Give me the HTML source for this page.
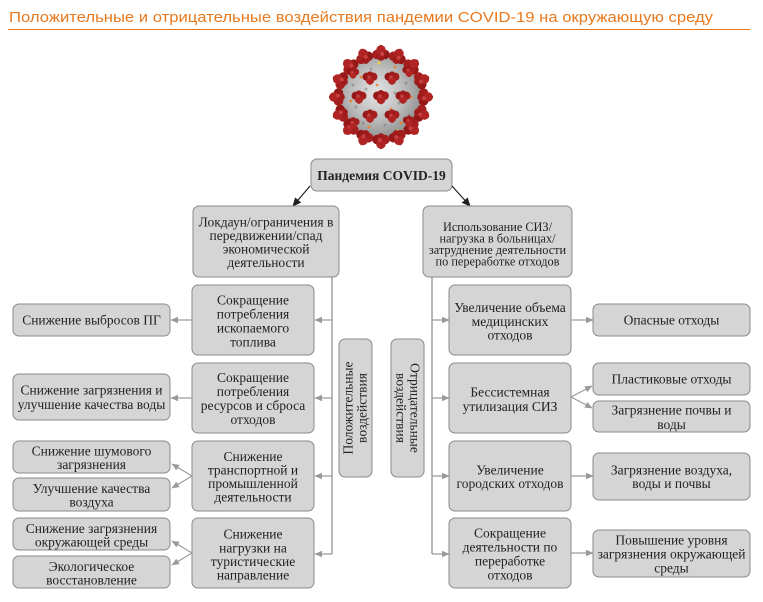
<!DOCTYPE html>
<html><head><meta charset="utf-8">
<style>
html,body{margin:0;padding:0;background:#fff;}
svg{display:block;}
.b{fill:#d5d5d5;stroke:#8a8a8a;stroke-width:1;}
.t{font-family:"Liberation Serif","DejaVu Serif",serif;font-size:13.5px;fill:#222;text-anchor:middle;}
.s{font-size:12.3px;}
.c{stroke:#9a9a9a;stroke-width:1.2;fill:none;}
.v{stroke:#888;stroke-width:1.2;fill:none;}
</style></head>
<body>
<svg width="763" height="602" viewBox="0 0 763 602" xmlns="http://www.w3.org/2000/svg">
<defs>
<marker id="ag" markerWidth="8" markerHeight="8" refX="7" refY="4" orient="auto" markerUnits="userSpaceOnUse">
<path d="M0,0.8 L7.5,4 L0,7.2 Z" fill="#999"/>
</marker>
<marker id="ad" markerWidth="10" markerHeight="10" refX="8" refY="4.5" orient="auto" markerUnits="userSpaceOnUse">
<path d="M0,0.5 L9,4.5 L0,8.5 Z" fill="#222"/>
</marker>
<radialGradient id="sph" cx="45%" cy="45%" r="55%">
<stop offset="0" stop-color="#e6e6e6"/>
<stop offset="0.6" stop-color="#bcbcbc"/>
<stop offset="1" stop-color="#959595"/>
</radialGradient>
<g id="sp">
<rect x="-1.2" y="0" width="2.4" height="8" fill="#8a2020"/>
<circle cx="-4" cy="-1.5" r="4.8" fill="#951818"/>
<circle cx="4" cy="-1.5" r="4.8" fill="#a41e1e"/>
<circle cx="0" cy="3" r="4.8" fill="#b02424"/>
<circle cx="0" cy="-4" r="3.8" fill="#a01c1c"/>
<circle cx="-1.2" cy="-1" r="2" fill="#c84040"/>
</g>
</defs>

<!-- Title -->
<text x="9" y="22" font-family="Liberation Sans, DejaVu Sans, sans-serif" font-size="15" fill="#E8791E" textLength="704" lengthAdjust="spacingAndGlyphs">Положительные и отрицательные воздействия пандемии COVID-19 на окружающую среду</text>
<line x1="8" y1="29.5" x2="750" y2="29.5" stroke="#E8791E" stroke-width="1"/>

<!-- Virus -->
<g transform="translate(381,97)">
<circle r="40" fill="url(#sph)"/>
<g fill="#6f6f6f" opacity="0.45">
<circle cx="-15" cy="-8" r="1.5"/><circle cx="8" cy="-18" r="1.5"/><circle cx="18" cy="6" r="1.5"/><circle cx="-6" cy="16" r="1.5"/><circle cx="-25" cy="10" r="1.5"/><circle cx="25" cy="-14" r="1.5"/><circle cx="4" cy="28" r="1.5"/><circle cx="-10" cy="-28" r="1.5"/><circle cx="-28" cy="-12" r="1.5"/><circle cx="28" cy="18" r="1.5"/><circle cx="-18" cy="26" r="1.5"/><circle cx="14" cy="-4" r="1.5"/>
</g>
<g fill="#e8833a">
<circle cx="-20" cy="-20" r="1.4"/><circle cx="14" cy="-30" r="1.4"/><circle cx="30" cy="0" r="1.4"/><circle cx="-30" cy="4" r="1.4"/><circle cx="-12" cy="30" r="1.4"/><circle cx="20" cy="26" r="1.4"/><circle cx="-4" cy="-12" r="1.3"/><circle cx="10" cy="12" r="1.3"/><circle cx="-26" cy="-28" r="1.3"/><circle cx="30" cy="-22" r="1.3"/>
</g>
<circle cx="-2" cy="-34" r="1.5" fill="#f0d040"/>
<circle cx="16" cy="34" r="1.5" fill="#f0d040"/>
<!-- perimeter spikes -->
<use href="#sp" transform="translate(44,0) rotate(-90)"/>
<use href="#sp" transform="translate(40.6,16.8) rotate(-67.5)"/>
<use href="#sp" transform="translate(31.1,31.1) rotate(-45)"/>
<use href="#sp" transform="translate(16.8,40.6) rotate(-22.5)"/>
<use href="#sp" transform="translate(0,44) rotate(0)"/>
<use href="#sp" transform="translate(-16.8,40.6) rotate(22.5)"/>
<use href="#sp" transform="translate(-31.1,31.1) rotate(45)"/>
<use href="#sp" transform="translate(-40.6,16.8) rotate(67.5)"/>
<use href="#sp" transform="translate(-44,0) rotate(90)"/>
<use href="#sp" transform="translate(-40.6,-16.8) rotate(112.5)"/>
<use href="#sp" transform="translate(-31.1,-31.1) rotate(135)"/>
<use href="#sp" transform="translate(-16.8,-40.6) rotate(157.5)"/>
<use href="#sp" transform="translate(0,-44) rotate(180)"/>
<use href="#sp" transform="translate(16.8,-40.6) rotate(202.5)"/>
<use href="#sp" transform="translate(31.1,-31.1) rotate(225)"/>
<use href="#sp" transform="translate(40.6,-16.8) rotate(247.5)"/>
<!-- surface spikes -->
<use href="#sp" transform="translate(0,0) scale(0.9)"/>
<use href="#sp" transform="translate(22,0) scale(0.85)"/>
<use href="#sp" transform="translate(11,19) scale(0.85)"/>
<use href="#sp" transform="translate(-11,19) scale(0.85)"/>
<use href="#sp" transform="translate(-22,0) scale(0.85)"/>
<use href="#sp" transform="translate(-11,-19) scale(0.85)"/>
<use href="#sp" transform="translate(11,-19) scale(0.85)"/>
<use href="#sp" transform="translate(28,-26) scale(0.75)"/>
<use href="#sp" transform="translate(-28,26) scale(0.75)"/>
<use href="#sp" transform="translate(-28,-24) scale(0.7)"/>
<use href="#sp" transform="translate(28,24) scale(0.7)"/>
</g>

<!-- Pandemia -->
<rect class="b" x="311" y="159" width="141" height="32" rx="6"/>
<text class="t" x="381.5" y="180" font-weight="bold">Пандемия COVID-19</text>
<line x1="310" y1="186" x2="293" y2="206" stroke="#222" stroke-width="1.2" marker-end="url(#ad)"/>
<line x1="452" y1="186" x2="470" y2="206" stroke="#222" stroke-width="1.2" marker-end="url(#ad)"/>

<!-- top-level boxes -->
<rect class="b" x="193" y="206" width="146" height="71" rx="6"/>
<text class="t" x="266" y="226.5">Локдаун/ограничения в</text>
<text class="t" x="266" y="240">передвижении/спад</text>
<text class="t" x="266" y="253.5">экономической</text>
<text class="t" x="266" y="267">деятельности</text>

<rect class="b" x="423" y="206" width="149" height="71" rx="6"/>
<text class="t s" x="497.5" y="231">Использование СИЗ/</text>
<text class="t s" x="497.5" y="242.5">нагрузка в больницах/</text>
<text class="t s" x="497.5" y="254">затруднение деятельности</text>
<text class="t s" x="497.5" y="265.5">по переработке отходов</text>

<!-- trunks -->
<line class="v" x1="332" y1="277" x2="332" y2="554"/>
<line class="v" x1="432" y1="277" x2="432" y2="554"/>
<line class="c" x1="332" y1="320" x2="315" y2="320" marker-end="url(#ag)"/>
<line class="c" x1="332" y1="398" x2="315" y2="398" marker-end="url(#ag)"/>
<line class="c" x1="332" y1="476" x2="315" y2="476" marker-end="url(#ag)"/>
<line class="c" x1="332" y1="554" x2="315" y2="554" marker-end="url(#ag)"/>
<line class="c" x1="432" y1="320" x2="449" y2="320" marker-end="url(#ag)"/>
<line class="c" x1="432" y1="398" x2="449" y2="398" marker-end="url(#ag)"/>
<line class="c" x1="432" y1="476" x2="449" y2="476" marker-end="url(#ag)"/>
<line class="c" x1="432" y1="554" x2="449" y2="554" marker-end="url(#ag)"/>

<!-- middle vertical labels -->
<rect class="b" x="339" y="339" width="33" height="138" rx="6"/>
<text class="t" transform="translate(355.5,408) rotate(-90)" x="0" y="-3" font-size="13.5">Положительные</text>
<text class="t" transform="translate(355.5,408) rotate(-90)" x="0" y="11" font-size="13.5">воздействия</text>
<rect class="b" x="391" y="339" width="33" height="138" rx="6"/>
<text class="t" transform="translate(407.5,408) rotate(90)" x="0" y="-3" font-size="13.5">Отрицательные</text>
<text class="t" transform="translate(407.5,408) rotate(90)" x="0" y="11" font-size="13.5">воздействия</text>

<!-- left middle boxes -->
<rect class="b" x="192" y="285" width="122" height="70" rx="6"/>
<text class="t" x="253" y="304.5">Сокращение</text>
<text class="t" x="253" y="318.5">потребления</text>
<text class="t" x="253" y="332.5">ископаемого</text>
<text class="t" x="253" y="346.5">топлива</text>

<rect class="b" x="192" y="363" width="122" height="70" rx="6"/>
<text class="t" x="253" y="382">Сокращение</text>
<text class="t" x="253" y="396">потребления</text>
<text class="t" x="253" y="410">ресурсов и сброса</text>
<text class="t" x="253" y="424">отходов</text>

<rect class="b" x="192" y="441" width="122" height="70" rx="6"/>
<text class="t" x="253" y="461">Снижение</text>
<text class="t" x="253" y="474.5">транспортной и</text>
<text class="t" x="253" y="488">промышленной</text>
<text class="t" x="253" y="501.5">деятельности</text>

<rect class="b" x="192" y="518" width="122" height="70" rx="6"/>
<text class="t" x="253" y="538.5">Снижение</text>
<text class="t" x="253" y="552.5">нагрузки на</text>
<text class="t" x="253" y="566">туристические</text>
<text class="t" x="253" y="579.5">направление</text>

<!-- left connectors to outer -->
<line class="c" x1="192" y1="320" x2="171" y2="320" marker-end="url(#ag)"/>
<line class="c" x1="192" y1="398" x2="171" y2="398" marker-end="url(#ag)"/>
<line class="c" x1="192" y1="476" x2="172" y2="464" marker-end="url(#ag)"/>
<line class="c" x1="192" y1="476" x2="172" y2="488" marker-end="url(#ag)"/>
<line class="c" x1="192" y1="553" x2="172" y2="541" marker-end="url(#ag)"/>
<line class="c" x1="192" y1="553" x2="172" y2="565" marker-end="url(#ag)"/>

<!-- left outer boxes -->
<rect class="b" x="13" y="304" width="157" height="32" rx="6"/>
<text class="t" x="91.5" y="324.5">Снижение выбросов ПГ</text>

<rect class="b" x="13" y="374" width="157" height="46" rx="6"/>
<text class="t" x="91.5" y="394.5">Снижение загрязнения и</text>
<text class="t" x="91.5" y="409">улучшение качества воды</text>

<rect class="b" x="13" y="441" width="157" height="32" rx="6"/>
<text class="t" x="91.5" y="455.5">Снижение шумового</text>
<text class="t" x="91.5" y="469">загрязнения</text>

<rect class="b" x="13" y="478" width="157" height="33" rx="6"/>
<text class="t" x="91.5" y="493">Улучшение качества</text>
<text class="t" x="91.5" y="506.5">воздуха</text>

<rect class="b" x="13" y="518" width="157" height="32" rx="6"/>
<text class="t" x="91.5" y="533">Снижение загрязнения</text>
<text class="t" x="91.5" y="546.5">окружающей среды</text>

<rect class="b" x="13" y="556" width="157" height="32" rx="6"/>
<text class="t" x="91.5" y="571">Экологическое</text>
<text class="t" x="91.5" y="584.5">восстановление</text>

<!-- right middle boxes -->
<rect class="b" x="449" y="285" width="122" height="70" rx="6"/>
<text class="t" x="510" y="312">Увеличение объема</text>
<text class="t" x="510" y="326">медицинских</text>
<text class="t" x="510" y="339.5">отходов</text>

<rect class="b" x="449" y="363" width="122" height="70" rx="6"/>
<text class="t" x="510" y="396.5">Бессистемная</text>
<text class="t" x="510" y="411">утилизация СИЗ</text>

<rect class="b" x="449" y="441" width="122" height="70" rx="6"/>
<text class="t" x="510" y="474.5">Увеличение</text>
<text class="t" x="510" y="488">городских отходов</text>

<rect class="b" x="449" y="518" width="122" height="70" rx="6"/>
<text class="t" x="510" y="537.5">Сокращение</text>
<text class="t" x="510" y="551.5">деятельности по</text>
<text class="t" x="510" y="565.5">переработке</text>
<text class="t" x="510" y="579.5">отходов</text>

<!-- right connectors to outer -->
<line class="c" x1="571" y1="320" x2="593" y2="320" marker-end="url(#ag)"/>
<line class="c" x1="571" y1="397" x2="592" y2="386" marker-end="url(#ag)"/>
<line class="c" x1="571" y1="397" x2="592" y2="408" marker-end="url(#ag)"/>
<line class="c" x1="571" y1="476" x2="593" y2="476" marker-end="url(#ag)"/>
<line class="c" x1="571" y1="553" x2="593" y2="553" marker-end="url(#ag)"/>

<!-- right outer boxes -->
<rect class="b" x="593" y="304" width="157" height="32" rx="6"/>
<text class="t" x="671.5" y="324.5">Опасные отходы</text>

<rect class="b" x="593" y="363" width="157" height="32" rx="6"/>
<text class="t" x="671.5" y="383.5">Пластиковые отходы</text>

<rect class="b" x="593" y="401" width="157" height="31" rx="6"/>
<text class="t" x="671.5" y="414.5">Загрязнение почвы и</text>
<text class="t" x="671.5" y="429">воды</text>

<rect class="b" x="593" y="453" width="157" height="47" rx="6"/>
<text class="t" x="671.5" y="474.5">Загрязнение воздуха,</text>
<text class="t" x="671.5" y="488">воды и почвы</text>

<rect class="b" x="593" y="530" width="157" height="47" rx="6"/>
<text class="t" x="671.5" y="544.5">Повышение уровня</text>
<text class="t" x="671.5" y="558.5">загрязнения окружающей</text>
<text class="t" x="671.5" y="572.5">среды</text>
</svg>
</body></html>
